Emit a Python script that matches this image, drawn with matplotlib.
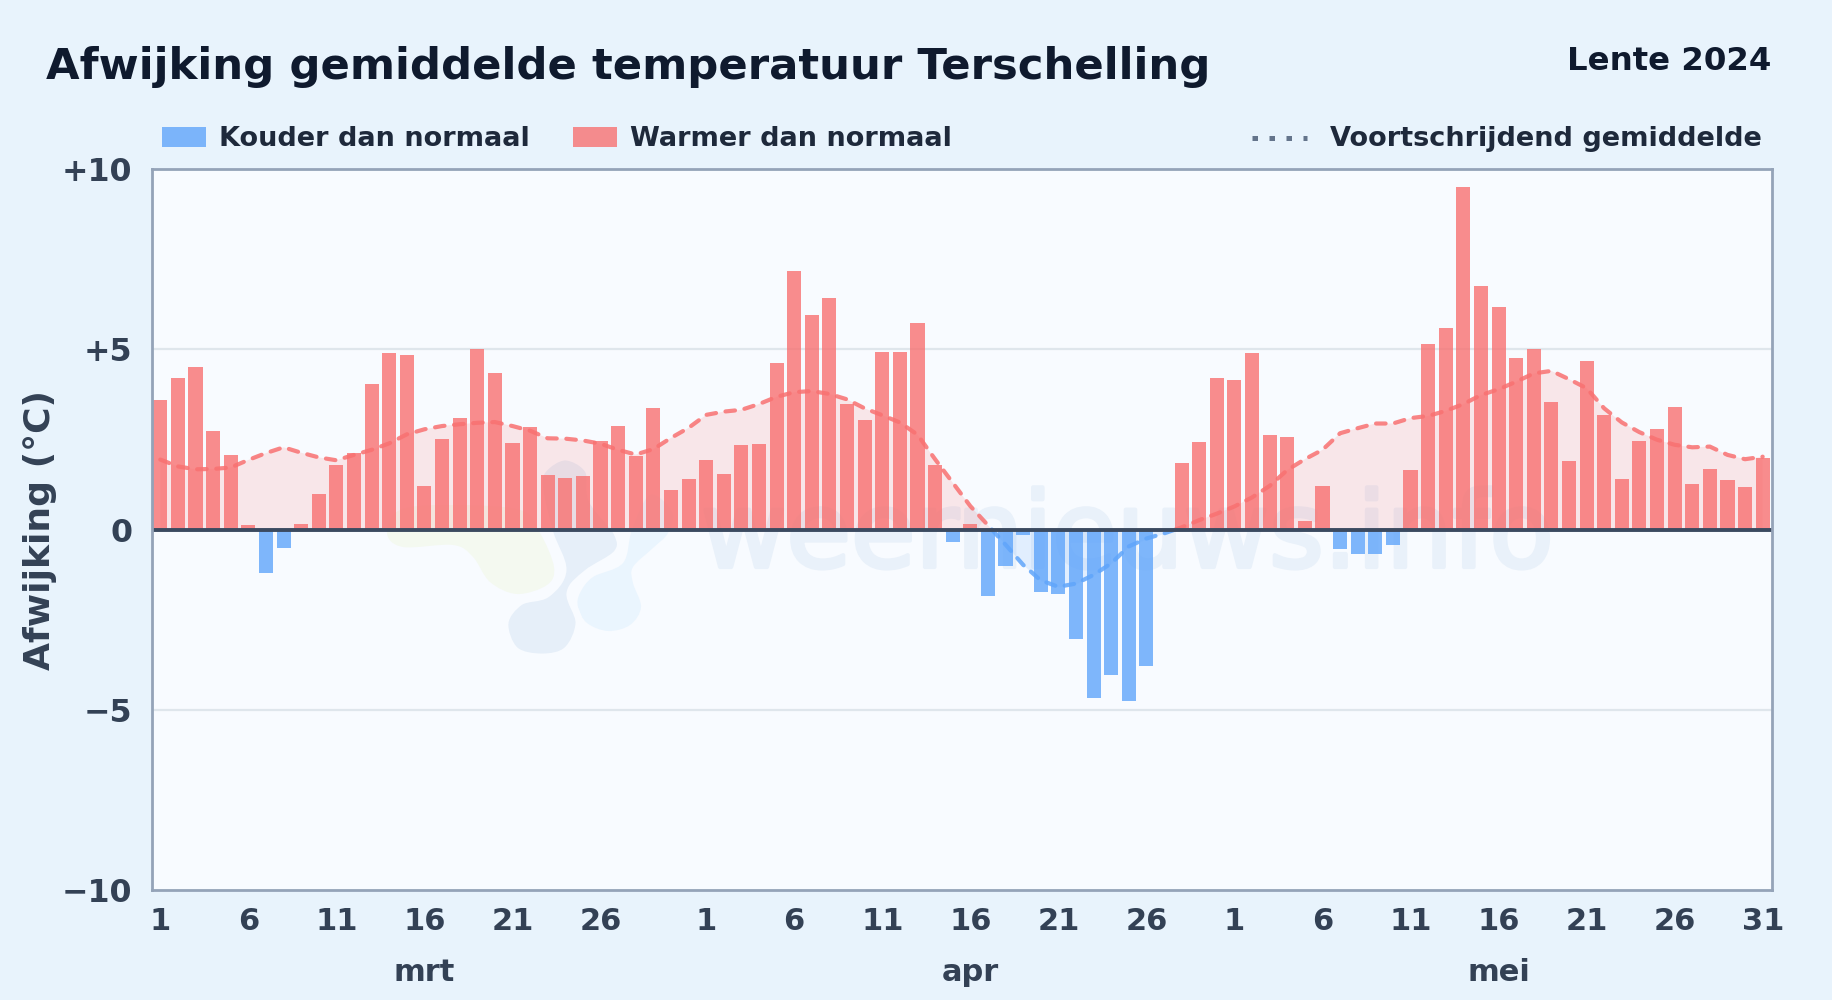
import numpy as np
import matplotlib
matplotlib.use("Agg")
import matplotlib.pyplot as plt
import matplotlib.patheffects as pe
from matplotlib.transforms import Affine2D
from matplotlib.patches import Rectangle, PathPatch
from matplotlib.path import Path
from matplotlib.lines import Line2D

# ---- data ----
mar_dev = [3.6, 4.2, 4.5, 2.74, 2.07, 0.13, -1.22, -0.5, 0.15, 0.99, 1.79, 2.12, 4.04, 4.9, 4.84, 1.21,
           2.51, 3.1, 5.0, 4.34, 2.4, 2.85, 1.52, 1.43, 1.49, 2.46, 2.87, 2.05, 3.36, 1.1, 1.4]
apr_dev = [1.93, 1.54, 2.34, 2.37, 4.63, 7.17, 5.96, 6.42, 3.47, 3.03, 4.91, 4.91, 5.73, 1.79, -0.35,
           0.16, -1.85, -1.0, -0.16, -1.74, -1.8, -3.04, -4.67, -4.03, -4.77, -3.78, 0.0, 1.85, 2.42, 4.21]
may_dev = [4.15, 4.9, 2.62, 2.57, 0.24, 1.21, -0.53, -0.67, -0.69, -0.42, 1.65, 5.15, 5.59, 9.5, 6.76,
           6.17, 4.76, 5.0, 3.54, 1.9, 4.68, 3.18, 1.4, 2.46, 2.79, 3.4, 1.27, 1.68, 1.38, 1.18, 1.99]
mar_avg = [1.94, 1.75, 1.67, 1.68, 1.72, 1.93, 2.12, 2.28, 2.13, 2.0, 1.92, 2.07, 2.21, 2.39, 2.64, 2.78,
           2.87, 2.92, 2.96, 2.98, 2.87, 2.74, 2.53, 2.52, 2.47, 2.38, 2.21, 2.08, 2.23, 2.54, 2.82]
apr_avg = [3.18, 3.27, 3.32, 3.48, 3.68, 3.81, 3.84, 3.76, 3.61, 3.36, 3.17, 2.97, 2.63, 1.95, 1.3, 0.65,
           0.12, -0.42, -0.98, -1.41, -1.59, -1.5, -1.26, -0.94, -0.47, -0.25, -0.11, 0.06, 0.26, 0.44]
may_avg = [0.64, 0.89, 1.21, 1.65, 1.95, 2.21, 2.67, 2.81, 2.94, 2.94, 3.09, 3.15, 3.29, 3.48, 3.73, 3.89,
           4.1, 4.33, 4.4, 4.17, 3.92, 3.36, 2.97, 2.7, 2.49, 2.35, 2.28, 2.3, 2.07, 1.95, 2.02]
month_names = ["mrt", "apr", "mei"]
month_lengths = [31, 30, 31]
tick_days = [1, 6, 11, 16, 21, 26]
y_ticks = [-10, -5, 0, 5, 10]
y_labels = ["\u221210", "\u22125", "0", "+5", "+10"]
title = "Afwijking gemiddelde temperatuur Terschelling"
subtitle = "Lente 2024"
ylabel = "Afwijking (\u00b0C)"
legend_cold = "Kouder dan normaal"
legend_warm = "Warmer dan normaal"
legend_avg = "Voortschrijdend gemiddelde"
watermark = "weernieuws.info"

# ---- style ----
W, H = 1832, 1000
BG, AX_BG = "#e8f3fc", "#f8fbff"
RED, BLUE = "#f87171", "#60a5fa"
DARK, MID, TXT = "#0f1a2e", "#334155", "#1e293b"
plt.rcParams["font.family"] = "DejaVu Sans"
plt.rcParams["font.weight"] = "bold"

dev = np.array(mar_dev + apr_dev + may_dev)
avg = np.array(mar_avg + apr_avg + may_avg)
x = np.arange(len(dev))

fig = plt.figure(figsize=(W / 100, H / 100), dpi=100, facecolor=BG)
L, R, T, B = 151.5, 1771.5, 169, 890
ax = fig.add_axes([L / W, 1 - B / H, (R - L) / W, (B - T) / H], facecolor=AX_BG)
px = Affine2D().scale(1, -1).translate(0, H)  # decoration drawn in image pixels


def smooth_blob(outline, color, halo=None):
    """Closed Catmull-Rom curve through an outline given in image pixels."""
    p = np.array(outline, float)
    n = len(p)
    verts, codes = [p[0]], [Path.MOVETO]
    for i in range(n):
        p0, p1, p2, p3 = p[i - 1], p[i], p[(i + 1) % n], p[(i + 2) % n]
        verts += [p1 + (p2 - p0) / 6, p2 - (p3 - p1) / 6, p2]
        codes += [Path.CURVE4] * 3
    ax.add_patch(PathPatch(Path(verts, codes), transform=px, facecolor=color,
                           edgecolor=halo or "none", lw=5 if halo else 0, zorder=0.6))


# watermark logo outlines (decoration only)
logo_yellow = [(387, 533), (403, 547), (453, 545), (473, 557), (490, 582), (517, 594),
               (547, 585), (554, 567), (540, 533), (520, 510), (450, 505), (400, 510)]
logo_light = [(580, 593), (593, 577), (623, 563), (632, 530), (650, 495), (672, 512), (668, 533),
              (653, 548), (633, 567), (633, 583), (641, 607), (630, 625), (608, 631),
              (587, 623), (578, 607)]
logo_dark = [(505, 623), (520, 602), (547, 594), (563, 570), (550, 533), (540, 490), (543, 470),
             (565, 457), (588, 470), (592, 500), (617, 533), (617, 553), (587, 573),
             (570, 593), (579, 623), (567, 650), (542, 657), (515, 650)]
smooth_blob(logo_yellow, "#f4f9f0")
smooth_blob(logo_light, "#eaf5fe")
smooth_blob(logo_dark, "#e6eff9", halo=AX_BG)
ax.text(1127, 567, watermark, transform=px, fontsize=75.5, fontweight="normal", color="#e9f1fa",
        ha="center", va="baseline", zorder=0.7,
        path_effects=[pe.withStroke(linewidth=3, foreground="#e9f1fa")])

ax.set_xlim(-0.5, len(dev) - 0.5)
ax.set_ylim(-10, 10)

# grid
for v in (-5, 5):
    ax.axhline(v, color="#dfe6ec", lw=1.6, zorder=1)

# bars
ax.bar(x, dev, width=0.8, color=np.where(dev >= 0, RED, BLUE), alpha=0.8, linewidth=0, zorder=2)

# moving average: area and dashed line, coloured by sign
ax.fill_between(x, 0, avg, where=avg >= 0, interpolate=True, color=RED, alpha=0.15, lw=0, zorder=2.5)
ax.fill_between(x, 0, avg, where=avg <= 0, interpolate=True, color=BLUE, alpha=0.15, lw=0, zorder=2.5)
cross = np.where(np.sign(avg[:-1]) * np.sign(avg[1:]) < 0)[0]
xc = x + 0.0
xz = xc[cross] - avg[cross] * (xc[cross + 1] - xc[cross]) / (avg[cross + 1] - avg[cross])
xx = np.concatenate([xc, xz])
yy = np.concatenate([avg, np.zeros_like(xz)])
o = np.argsort(xx)
xx, yy = xx[o], yy[o]
for mask, col in ((yy >= 0, RED), (yy <= 0, BLUE)):
    ax.plot(xx, np.ma.masked_where(~mask, yy), color=col, lw=3.0, alpha=0.85, zorder=3,
            dashes=(2.3, 2.3), dash_capstyle="round", dash_joinstyle="round")

# zero line
ax.axhline(0, color="#3b4a60", lw=2.8, zorder=4)

# axes
for s in ax.spines.values():
    s.set_color("#94a3b8")
    s.set_linewidth(2.0)
    s.set_zorder(5)
ax.set_yticks(y_ticks, y_labels)
ax.tick_params(axis="y", length=0, pad=14, labelsize=22.8, labelcolor=MID)
pos, labs, start = [], [], 0
for n in month_lengths:
    days = tick_days + ([31] if n == 31 and start > 0 else [])
    pos += [start + d - 1 for d in days]
    labs += [str(d) for d in days]
    start += n
ax.set_xticks(pos, labs)
ax.tick_params(axis="x", length=0, pad=12.5, labelsize=22, labelcolor=MID)

start = 0
for name, n in zip(month_names, month_lengths):
    ax.text(start + 15, 0, name, transform=ax.get_xaxis_transform() + Affine2D().translate(0, -91),
            ha="center", va="baseline", fontsize=22, color=MID)
    start += n


def ftext(xp, yp, s, **kw):
    fig.text(xp / W, 1 - yp / H, s, **kw)


ftext(40.5, 530, ylabel, rotation=90, ha="center", va="center", fontsize=26, color=MID)
ftext(46.5, 67, title, ha="left", va="center", fontsize=31.25, color=DARK)
ftext(1771, 61.5, subtitle, ha="right", va="center", fontsize=23.3, color=DARK)

# legend
fig.add_artist(Rectangle((162 / W, 1 - 147 / H), 44 / W, 20 / H, transform=fig.transFigure,
                         color=BLUE, alpha=0.8, lw=0))
fig.add_artist(Rectangle((573 / W, 1 - 147 / H), 44 / W, 20 / H, transform=fig.transFigure,
                         color=RED, alpha=0.8, lw=0))
fig.add_artist(Line2D([1252 / W, 1307 / W], [1 - 137.5 / H] * 2, transform=fig.transFigure,
                      color="#64748b", lw=3.6, dashes=(1.1, 2.3), dash_capstyle="butt"))
ftext(219, 139, legend_cold, ha="left", va="center", fontsize=19.5, color=TXT)
ftext(630, 139, legend_warm, ha="left", va="center", fontsize=19.5, color=TXT)
ftext(1330, 139, legend_avg, ha="left", va="center", fontsize=19.5, color=TXT)

fig.savefig("out.png", dpi=100, facecolor=BG)
